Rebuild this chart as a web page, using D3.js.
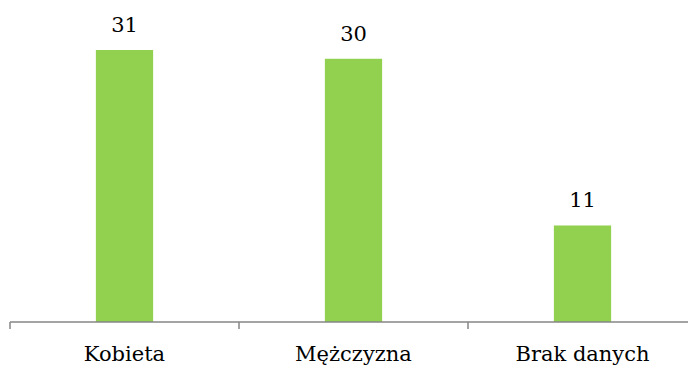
<!DOCTYPE html>
<html>
<head>
<meta charset="utf-8">
<script src="https://cdn.jsdelivr.net/npm/d3@7"></script>
<style>
  body { margin: 0; background: #fff; }
</style>
</head>
<body>
<svg id="chart" width="688" height="365"></svg>
<script>
var categories = ['Kobieta', 'Mężczyzna', 'Brak danych'];
var values = [31, 30, 11];

var FONT = "'DejaVu Serif', serif";

var svg = d3.select('#chart');
var width = 688, height = 365;
var margin = { left: 10, right: -9, top: 0, bottom: 43 };
var baseY = height - margin.bottom;

// the axis runs a little past the right edge of the picture
var x = d3.scaleBand()
  .domain(categories)
  .range([margin.left, width - margin.right])
  .paddingInner(0.75)
  .paddingOuter(0.375);

var y = d3.scaleLinear()
  .domain([0, 31])
  .range([baseY, 50]);

svg.selectAll('.bar')
  .data(values)
  .enter()
  .append('rect')
    .attr('class', 'bar')
    .attr('x', function(d, i) { return x(categories[i]); })
    .attr('y', function(d) { return y(d); })
    .attr('width', x.bandwidth())
    .attr('height', function(d) { return baseY - y(d); })
    .attr('fill', '#92d050');

svg.selectAll('.val')
  .data(values)
  .enter()
  .append('text')
    .attr('class', 'val')
    .attr('x', function(d, i) { return x(categories[i]) + x.bandwidth() / 2; })
    .attr('y', function(d) { return y(d) - 18; })
    .attr('text-anchor', 'middle')
    .attr('font-family', FONT)
    .attr('font-size', 21)
    .text(function(d) { return d; });

var tickXs = d3.range(categories.length + 1).map(function(i) {
  return margin.left + i * x.step();
});

svg.append('line')
  .attr('x1', margin.left).attr('x2', width)
  .attr('y1', baseY).attr('y2', baseY)
  .attr('stroke', '#868686').attr('stroke-width', 1.5);

svg.selectAll('.tick')
  .data(tickXs)
  .enter()
  .append('line')
    .attr('class', 'tick')
    .attr('x1', function(d) { return d; }).attr('x2', function(d) { return d; })
    .attr('y1', baseY).attr('y2', baseY + 7)
    .attr('stroke', '#868686').attr('stroke-width', 1.5);

svg.selectAll('.cat')
  .data(categories)
  .enter()
  .append('text')
    .attr('class', 'cat')
    .attr('x', function(d) { return x(d) + x.bandwidth() / 2; })
    .attr('y', baseY + 39)
    .attr('text-anchor', 'middle')
    .attr('font-family', FONT)
    .attr('font-size', 21)
    .text(function(d) { return d; });
</script>
</body>
</html>
